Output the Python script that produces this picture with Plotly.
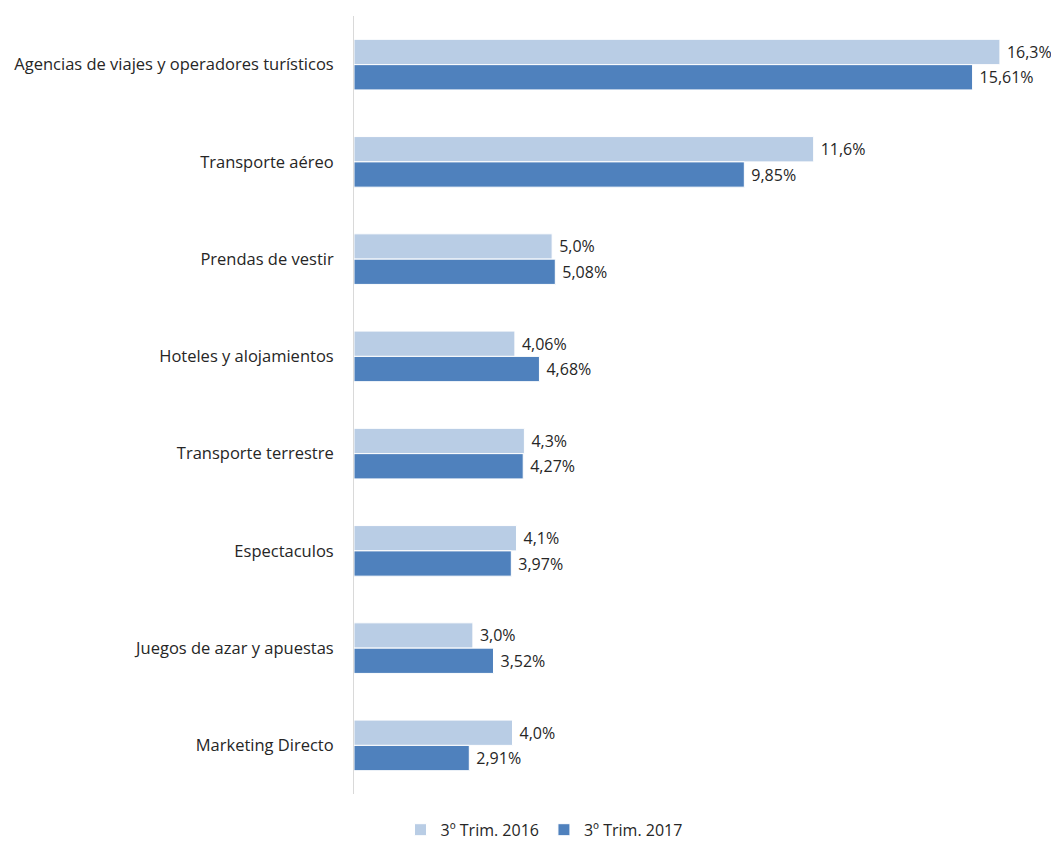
import plotly.graph_objects as go

categories = [
    "Agencias de viajes y operadores turísticos",
    "Transporte aéreo",
    "Prendas de vestir",
    "Hoteles y alojamientos",
    "Transporte terrestre",
    "Espectaculos",
    "Juegos de azar y apuestas",
    "Marketing Directo",
]
series_names = ["3º Trim. 2016", "3º Trim. 2017"]
values_2016 = [16.3, 11.6, 5.0, 4.06, 4.3, 4.1, 3.0, 4.0]
values_2017 = [15.61, 9.85, 5.08, 4.68, 4.27, 3.97, 3.52, 2.91]
labels_2016 = ["16,3%", "11,6%", "5,0%", "4,06%", "4,3%", "4,1%", "3,0%", "4,0%"]
labels_2017 = ["15,61%", "9,85%", "5,08%", "4,68%", "4,27%", "3,97%", "3,52%", "2,91%"]

FONT = "Open Sans"
TXT = "#262626"
FS = 16

fig = go.Figure()
for name, vals, labs, col in [
    (series_names[0], values_2016, labels_2016, "#B9CDE5"),
    (series_names[1], values_2017, labels_2017, "#4F81BD"),
]:
    fig.add_trace(go.Bar(
        y=categories, x=vals, name=name, orientation="h",
        marker=dict(color=col, line=dict(color="white", width=1)),
        text=labs, texttemplate="\u2005%{text}", textposition="outside", cliponaxis=False,
        textfont=dict(family=FONT, size=FS, color=TXT),
        hoverinfo="skip",
    ))

fig.update_layout(
    width=1051, height=836,
    margin=dict(l=346, r=4, t=8, b=50),
    paper_bgcolor="white", plot_bgcolor="white",
    barmode="group", bargap=0.48, bargroupgap=0,
    font=dict(family=FONT, size=FS, color=TXT),
    showlegend=True,
    legend=dict(orientation="h", xref="container", x=0.51, xanchor="center",
                yref="container", y=0.017, yanchor="middle",
                font=dict(family=FONT, size=FS, color=TXT),
                itemwidth=30, traceorder="normal"),
)
fig.update_xaxes(range=[0, 17.69], showticklabels=False, showgrid=False,
                 zeroline=False, showline=False)
fig.update_yaxes(autorange="reversed", showgrid=False, zeroline=False,
                 showline=True, linecolor="#D9D9D9", linewidth=1,
                 ticks="", ticklabelstandoff=16,
                 tickfont=dict(family=FONT, size=16.5, color=TXT))

fig.write_html("out.html")
